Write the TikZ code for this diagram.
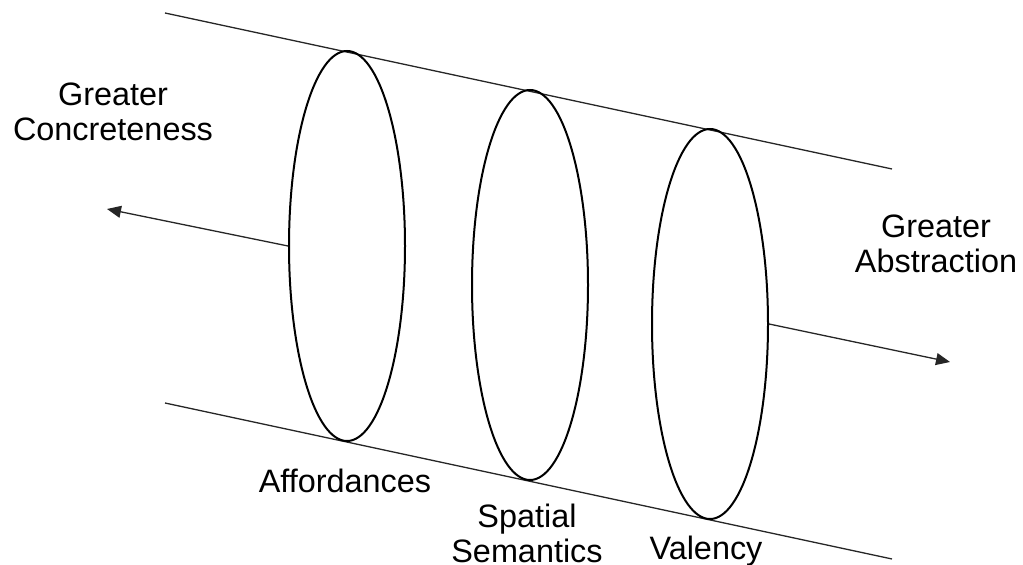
\documentclass[tikz,border=0pt]{standalone}
\usepackage{fontspec}
\setmainfont{Liberation Sans}
\usepackage{tikz}
\usetikzlibrary{arrows.meta,shapes.geometric}

\begin{document}
\begin{tikzpicture}[x=0.5pt, y=-0.5pt,
    font=\fontsize{16.2}{17.5}\selectfont,
    ring/.style={ellipse, draw=black, line width=1pt, inner sep=0pt,
                 minimum width=58pt, minimum height=195pt},
    rail/.style={black!85, line width=0.65pt},
    label/.style={anchor=base, inner sep=0pt}]
  \useasboundingbox (0,0) rectangle (1023,565);
  % the two long sides of the cylinder
  \draw[rail] (165,13) -- (892,169);
  \draw[rail] (165,403) -- (892,559);
  % the three cross-sections
  \node[ring] (afford) at (347,246) {};
  \node[ring] (spatial) at (530,285) {};
  \node[ring] (valency) at (710,324) {};
  \coordinate (concrete) at (107,209);
  \coordinate (abstract) at (950,362);
  \draw[rail, -{Triangle[length=7pt, width=6pt]}] (afford.west) -- (concrete);
  \draw[rail, -{Triangle[length=7pt, width=6pt]}] (valency.east) -- (abstract);
  \node[align=center, inner sep=0pt] (concretetxt) at (113,112) {Greater\\Concreteness};
  \node[align=center, inner sep=0pt] (abstracttxt) at (936,244) {Greater\\Abstraction};
  \node[label] (affordtxt) at (345,493) {Affordances};
  \node[align=center, inner sep=0pt] (spatialtxt) at (527,533) {Spatial\\Semantics};
  \node[label] (valencytxt) at (706,560) {Valency};
\end{tikzpicture}
\end{document}
